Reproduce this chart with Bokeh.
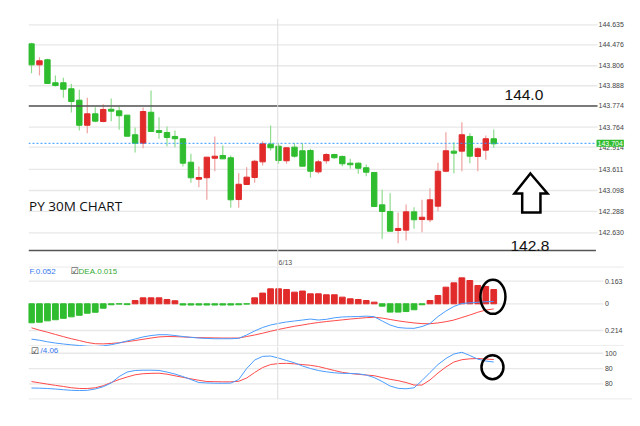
from bokeh.plotting import figure
from bokeh.layouts import column
from bokeh.models import Range1d, Span, Label
from bokeh.core.properties import value
from bokeh.embed import file_html
from bokeh.resources import INLINE

# ---------------- data ----------------
open_ = [144.516, 144.342, 144.384, 144.193, 144.193, 144.143, 144.048, 143.840, 143.935, 143.871,
         143.973, 143.960, 143.924, 143.761, 143.691, 143.948, 143.796, 143.780, 143.747, 143.728,
         143.533, 143.392, 143.404, 143.566, 143.589, 143.570, 143.223, 143.348, 143.406, 143.536,
         143.683, 143.666, 143.545, 143.658, 143.628, 143.630, 143.453, 143.545, 143.597, 143.581,
         143.525, 143.525, 143.487, 143.448, 143.179, 143.124, 142.966, 142.969, 143.121, 143.057,
         143.055, 143.168, 143.458, 143.625, 143.625, 143.747, 143.581, 143.633, 143.728]
close = [144.342, 144.375, 144.187, 144.170, 144.139, 144.037, 143.840, 143.935, 143.874, 143.971,
         143.957, 143.919, 143.749, 143.691, 143.954, 143.788, 143.780, 143.738, 143.728, 143.525,
         143.404, 143.406, 143.575, 143.583, 143.561, 143.221, 143.350, 143.409, 143.541, 143.686,
         143.653, 143.547, 143.653, 143.583, 143.500, 143.458, 143.536, 143.597, 143.570, 143.520,
         143.512, 143.483, 143.450, 143.165, 143.124, 142.960, 142.983, 143.121, 143.055, 143.076,
         143.221, 143.458, 143.628, 143.608, 143.761, 143.583, 143.645, 143.728, 143.686]
high = [144.525, 144.405, 144.392, 144.253, 144.234, 144.184, 144.134, 144.068, 143.990, 144.015,
        144.062, 143.996, 143.924, 143.821, 143.987, 144.129, 143.907, 143.830, 143.796, 143.728,
        143.603, 143.498, 143.575, 143.747, 143.672, 143.589, 143.442, 143.492, 143.553, 143.708,
        143.838, 143.690, 143.658, 143.690, 143.690, 143.645, 143.553, 143.608, 143.603, 143.589,
        143.561, 143.533, 143.514, 143.448, 143.304, 143.276, 143.115, 143.182, 143.160, 143.221,
        143.317, 143.528, 143.782, 143.699, 143.865, 143.774, 143.658, 143.755, 143.805]
low = [144.272, 144.253, 144.187, 144.162, 144.068, 143.946, 143.796, 143.774, 143.865, 143.865,
       143.874, 143.802, 143.749, 143.614, 143.649, 143.788, 143.728, 143.666, 143.658, 143.498,
       143.362, 143.326, 143.221, 143.458, 143.561, 143.154, 143.154, 143.348, 143.362, 143.506,
       143.630, 143.520, 143.520, 143.570, 143.500, 143.404, 143.437, 143.520, 143.561, 143.500,
       143.478, 143.437, 143.417, 143.165, 142.897, 142.960, 142.861, 142.883, 142.980, 142.952,
       143.035, 143.126, 143.450, 143.442, 143.458, 143.525, 143.458, 143.553, 143.653]

macd_hist = [-0.137, -0.133, -0.123, -0.115, -0.105, -0.094, -0.083, -0.068, -0.061, -0.032,
             -0.007, -0.002, -0.006, 0.024, 0.043, 0.043, 0.043, 0.031, 0.022, -0.009,
             -0.009, -0.009, -0.009, -0.009, -0.009, -0.009, -0.007, -0.002, 0.043, 0.077,
             0.108, 0.108, 0.103, 0.084, 0.092, 0.072, 0.072, 0.065, 0.065, 0.048,
             0.036, 0.031, 0.024, 0.012, -0.017, -0.060, -0.060, -0.056, -0.043, -0.007,
             0.024, 0.060, 0.120, 0.151, 0.187, 0.168, 0.132, 0.125, 0.103]
dif = [-0.255, -0.263, -0.274, -0.283, -0.290, -0.296, -0.301, -0.306, -0.308, -0.304,
       -0.295, -0.283, -0.268, -0.254, -0.239, -0.229, -0.223, -0.223, -0.229, -0.236,
       -0.242, -0.247, -0.250, -0.252, -0.252, -0.252, -0.249, -0.225, -0.196, -0.171,
       -0.153, -0.141, -0.131, -0.124, -0.117, -0.110, -0.117, -0.112, -0.101, -0.095,
       -0.093, -0.092, -0.089, -0.093, -0.124, -0.153, -0.171, -0.176, -0.177, -0.164,
       -0.142, -0.092, -0.052, -0.019, 0.002, 0.007, 0.011, 0.015, 0.017]
dea = [-0.173, -0.190, -0.205, -0.221, -0.237, -0.252, -0.265, -0.279, -0.288, -0.289,
       -0.286, -0.281, -0.273, -0.265, -0.256, -0.247, -0.239, -0.236, -0.237, -0.239,
       -0.242, -0.244, -0.245, -0.246, -0.247, -0.247, -0.247, -0.236, -0.225, -0.212,
       -0.198, -0.185, -0.173, -0.162, -0.153, -0.143, -0.135, -0.128, -0.122, -0.116,
       -0.110, -0.105, -0.100, -0.097, -0.103, -0.113, -0.123, -0.131, -0.138, -0.143,
       -0.144, -0.138, -0.129, -0.117, -0.099, -0.081, -0.061, -0.045, -0.037]

osc_k = [54.5, 54.3, 53.9, 53.2, 52.3, 51.5, 51.2, 51.5, 53.2, 56.2,
         61.1, 69.5, 75.4, 77.4, 77.8, 77.8, 77.5, 75.4, 72.8, 69.5,
         65.6, 61.7, 61.1, 60.8, 60.7, 60.9, 65.6, 80.0, 91.1, 95.9,
         96.3, 93.7, 90.5, 87.5, 83.3, 80.0, 77.4, 75.7, 74.4, 73.7,
         73.5, 73.1, 71.5, 68.2, 63.0, 57.1, 54.1, 53.5, 54.8, 64.3,
         74.8, 85.2, 93.1, 99.0, 101.3, 97.0, 92.3, 89.8, 88.5]
osc_d = [63.0, 61.3, 59.6, 58.0, 56.5, 54.9, 53.9, 53.9, 54.8, 57.5,
         61.7, 65.6, 68.9, 71.8, 73.2, 73.7, 73.9, 72.6, 70.5, 68.5,
         66.5, 64.6, 63.0, 62.8, 62.6, 62.6, 63.3, 67.6, 74.8, 81.3,
         85.2, 86.5, 86.8, 86.1, 85.2, 84.2, 82.6, 80.0, 77.4, 75.0,
         73.5, 72.4, 71.5, 70.6, 68.2, 65.9, 64.1, 61.7, 58.4, 58.4,
         65.0, 74.1, 82.0, 88.5, 91.5, 92.7, 93.1, 92.4, 91.8]

price_ticks = [144.674, 144.508, 144.334, 144.168, 144.002, 143.824, 143.658, 143.473, 143.298, 143.124, 142.947]
price_tick_labels = ["144.635", "144.476", "143.806", "143.888", "143.774", "143.764",
                     "142.914", "143.611", "143.098", "142.288", "142.630"]
macd_ticks = [0.163, 0.0, -0.1925]
macd_tick_labels = ["0.163", "0", "0.214"]
osc_ticks = [100, 80, 60]
osc_tick_labels = ["100", "80", "80"]

level_high = 144.0
level_low = 142.8
last_price = 143.69
last_price_label = "143.704"
date_break = 30.9
date_label = "6/13"
title_text = "PY 30M CHART"
macd_header = ["F.0.052", "DEA.0.015"]
osc_header = "/4.06"

ARROW_X = [62.6, 64.74, 63.86, 63.86, 61.57, 61.57, 60.6]
ARROW_Y = [143.439, 143.273, 143.273, 143.115, 143.115, 143.273, 143.273]

# ---------------- styling / geometry ----------------
GREEN = "#2fbd2f"
RED = "#e12a2a"
GREEN_WICK = "#8fdc8f"
RED_WICK = "#f0a0a0"
BLUE = "#4a9cff"
LINE_RED = "#ff4a4a"
GRID = "#e8e8e8"
FONT = "Liberation Sans"

X0, X1 = -0.376, 75.41          # frame spans the label column as well
MAIN_GRID_END = 71.02
SUB_GRID_END = 71.75
SEP_END = 74.3
MAIN_LABEL_X = 71.15
SUB_LABEL_X = 71.95

x = list(range(len(open_)))
X_RANGE = Range1d(X0, X1)


def make_fig(fh, y0, y1, top, bottom):
    p = figure(frame_width=604, frame_height=fh, x_range=X_RANGE, y_range=Range1d(y0, y1),
               output_backend="svg", toolbar_location=None, x_axis_location=None,
               y_axis_location=None, min_border_left=28, min_border_right=0,
               min_border_top=top, min_border_bottom=bottom, background_fill_color="white",
               border_fill_color="white")
    p.outline_line_color = None
    p.grid.grid_line_color = None
    p.add_layout(Span(location=date_break, dimension="height", line_color="#dddddd", line_width=1))
    return p


def add_grid(p, ticks, labels, grid_end, label_x):
    p.segment(x0=[X0] * len(ticks), y0=ticks, x1=[grid_end] * len(ticks), y1=ticks,
              line_color=GRID, line_width=1.3)
    p.text(x=[label_x] * len(ticks), y=ticks, text=labels, text_font=value(FONT),
           text_font_size="7px", text_color="#444444", text_baseline="middle", text_align="left")


# ---------------- main candlestick panel ----------------
p1 = make_fig(248, 142.667, 144.7265, 18, 0)
add_grid(p1, price_ticks, price_tick_labels, MAIN_GRID_END, MAIN_LABEL_X)

up = [c > o for o, c in zip(open_, close)]
body_col = [RED if u else GREEN for u in up]
wick_col = [RED_WICK if u else GREEN_WICK for u in up]
p1.segment(x0=x, y0=low, x1=x, y1=high, line_color=wick_col, line_width=1.2)
p1.vbar(x=x, width=0.68, top=[max(o, c) for o, c in zip(open_, close)],
        bottom=[min(o, c) for o, c in zip(open_, close)], fill_color=body_col, line_color=body_col)

p1.segment(x0=[X0, X0], y0=[level_high, level_low], x1=[MAIN_GRID_END, MAIN_GRID_END - 0.2],
           y1=[level_high, level_low], line_color="#555555", line_width=1.6)
p1.segment(x0=[X0], y0=[last_price], x1=[70.9], y1=[last_price], line_color="#3399ff",
           line_width=1, line_dash="2 2")

p1.add_layout(Label(x=70.9, y=last_price, text=last_price_label, text_font=FONT,
                    text_font_size="7px", text_color="white", text_baseline="middle",
                    text_align="left", background_fill_color="#2fbd2f", padding=1))
p1.add_layout(Label(x=59.35, y=144.091, text=f"{level_high:.1f}", text_font=FONT,
                    text_font_size="15.5px", text_color="#111111", text_baseline="middle"))
p1.add_layout(Label(x=60.1, y=142.839, text=f"{level_low:.1f}", text_font=FONT,
                    text_font_size="15.5px", text_color="#111111", text_baseline="middle"))
p1.add_layout(Label(x=-0.3, y=143.168, text=title_text, text_font="Open Sans",
                    text_font_size="13.5px", text_color="#111111", text_baseline="middle"))
p1.add_layout(Label(x=31.0, y=142.700, text=date_label, text_font=FONT,
                    text_font_size="7px", text_color="#555555", text_baseline="middle"))
p1.patch(ARROW_X, ARROW_Y, fill_color="white", line_color="black", line_width=2.5,
         line_join="miter")

# ---------------- MACD panel ----------------
p2 = make_fig(80, -0.308, 0.269, 0, 0)
add_grid(p2, macd_ticks, macd_tick_labels, SUB_GRID_END, SUB_LABEL_X)
p2.segment(x0=[X0, X0], y0=[0.266, -0.304], x1=[SEP_END, SEP_END], y1=[0.266, -0.304],
           line_color=GRID, line_width=1.3)
hist_col = [RED if h > 0 else GREEN for h in macd_hist]
p2.vbar(x=x, width=0.72, top=[max(h, 0) for h in macd_hist], bottom=[min(h, 0) for h in macd_hist],
        fill_color=hist_col, line_color=hist_col)
p2.line(x, dea, line_color=LINE_RED, line_width=1)
p2.line(x, dif, line_color=BLUE, line_width=1)
p2.add_layout(Label(x=-0.25, y=0.233, text=macd_header[0], text_font=FONT, text_font_size="8px",
                    text_color="#3377ee", text_baseline="middle"))
p2.add_layout(Label(x=4.9, y=0.233, text="\u2611", text_font="DejaVu Sans", text_font_size="9px",
                    text_color="#333333", text_baseline="middle"))
p2.add_layout(Label(x=5.9, y=0.233, text=macd_header[1], text_font=FONT, text_font_size="8px",
                    text_color="#33aa33", text_baseline="middle"))
p2.ellipse(x=[57.9], y=[0.050], width=25, height=34, width_units="screen", height_units="screen",
           fill_color=None, line_color="black", line_width=2.5)

# ---------------- oscillator panel ----------------
p3 = make_fig(53, 39.5, 108.8, 0, 6)
add_grid(p3, osc_ticks, osc_tick_labels, SUB_GRID_END, SUB_LABEL_X)
p3.segment(x0=[X0], y0=[40.0], x1=[X1], y1=[40.0], line_color=GRID, line_width=1.3)
p3.line(x, osc_d, line_color=LINE_RED, line_width=1)
p3.line(x, osc_k, line_color=BLUE, line_width=1)
p3.add_layout(Label(x=-0.1, y=103.3, text="\u2611", text_font="DejaVu Sans", text_font_size="9px",
                    text_color="#333333", text_baseline="middle"))
p3.add_layout(Label(x=1.13, y=103.3, text=osc_header, text_font=FONT, text_font_size="8px",
                    text_color="#3377ee", text_baseline="middle"))
p3.ellipse(x=[57.84], y=[81.7], width=22, height=24, width_units="screen", height_units="screen",
           fill_color=None, line_color="black", line_width=2.5)

layout = column(p1, p2, p3, spacing=0)
open("out.html", "w").write(file_html(layout, INLINE))
